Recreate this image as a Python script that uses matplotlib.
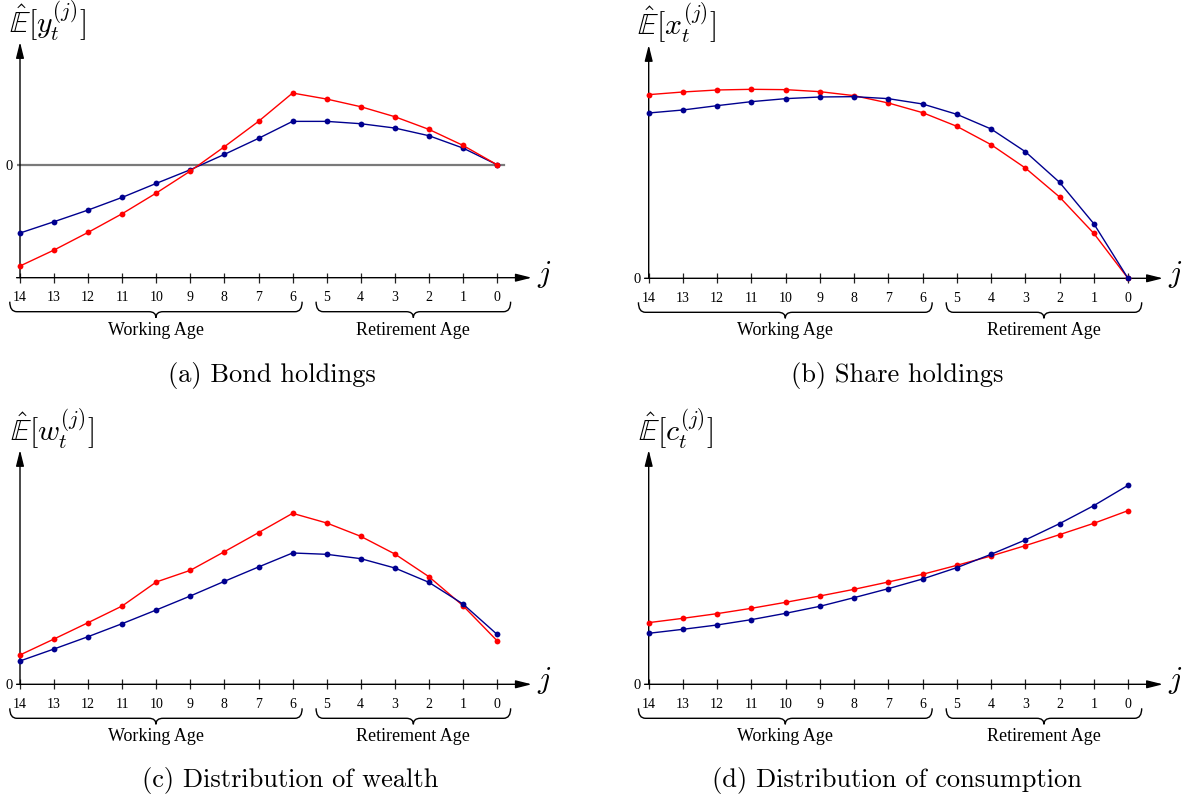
import matplotlib
matplotlib.use("Agg")
import matplotlib.pyplot as plt
from matplotlib.path import Path
from matplotlib.patches import PathPatch
import matplotlib.transforms as mtransforms

plt.rcParams['mathtext.fontset'] = 'cm'

# ---------------- data ----------------
ages = list(range(14, -1, -1))          # 14 ... 0
tick_labels = [str(a) for a in ages]

bond_red = [-3.04, -2.56, -2.03, -1.47, -0.85, -0.19, 0.54, 1.30, 2.15, 1.97, 1.74, 1.44, 1.06, 0.58, 0.0]
bond_blue = [-2.05, -1.71, -1.36, -0.98, -0.56, -0.15, 0.31, 0.79, 1.30, 1.30, 1.23, 1.10, 0.87, 0.50, 0.0]
share_red = [5.51, 5.59, 5.65, 5.67, 5.66, 5.60, 5.48, 5.26, 4.97, 4.56, 4.01, 3.31, 2.44, 1.35, 0.0]
share_blue = [4.96, 5.05, 5.18, 5.30, 5.39, 5.44, 5.45, 5.39, 5.23, 4.92, 4.48, 3.80, 2.88, 1.64, 0.0]
wealth_red = [0.88, 1.36, 1.85, 2.35, 3.07, 3.42, 3.98, 4.55, 5.13, 4.84, 4.44, 3.91, 3.23, 2.36, 1.31]
wealth_blue = [0.70, 1.06, 1.43, 1.82, 2.23, 2.65, 3.09, 3.52, 3.94, 3.90, 3.77, 3.49, 3.06, 2.41, 1.50]
cons_red = [1.85, 1.98, 2.12, 2.28, 2.46, 2.65, 2.85, 3.07, 3.30, 3.57, 3.85, 4.16, 4.49, 4.83, 5.21]
cons_blue = [1.53, 1.65, 1.78, 1.94, 2.13, 2.34, 2.60, 2.87, 3.16, 3.50, 3.90, 4.33, 4.82, 5.36, 5.97]

ylabels = [r'$\hat{\mathbb{E}}[y_t^{(j)}]$',
           r'$\hat{\mathbb{E}}[x_t^{(j)}]$',
           r'$\hat{\mathbb{E}}[w_t^{(j)}]$',
           r'$\hat{\mathbb{E}}[c_t^{(j)}]$']
captions = ['(a) Bond holdings', '(b) Share holdings',
            '(c) Distribution of wealth', '(d) Distribution of consumption']
group_labels = ['Working Age', 'Retirement Age']
groups = [(14.3, 5.72), (5.31, -0.4)]

RED = '#ff0000'
BLUE = '#00008f'
W, H = 1184, 800

fig = plt.figure(figsize=(W / 100, H / 100), dpi=100)

# layout per panel (pixels, top-left origin)
panels = [
    dict(x14=20, x0=497, xl=14.1, xr=-1.02, yz=164.7, ylo=-3.39, yhi=3.68,
         red=bond_red, blue=bond_blue, red_top=True, zero_line=True,
         lab=(9, 33), cap=(272, 382)),
    dict(x14=648.7, x0=1128, xl=14.12, xr=-1.02, yz=278.3, ylo=0, yhi=7.0,
         red=share_red, blue=share_blue, red_top=False, zero_line=False,
         lab=(637, 35), cap=(897, 382)),
    dict(x14=20, x0=497, xl=14.1, xr=-1.02, yz=684.3, ylo=0, yhi=7.03,
         red=wealth_red, blue=wealth_blue, red_top=False, zero_line=False,
         lab=(10, 441), cap=(290, 787)),
    dict(x14=648.7, x0=1128, xl=14.12, xr=-1.02, yz=684.3, ylo=0, yhi=7.03,
         red=cons_red, blue=cons_blue, red_top=False, zero_line=False,
         lab=(638, 441), cap=(897, 787)),
]
UNIT = 33.33  # px per value unit

axes = []
for i, p in enumerate(panels):
    s = (p['x0'] - p['x14']) / 14.0
    left = p['x14'] - (p['xl'] - 14) * s
    right = p['x0'] - p['xr'] * s
    bottom = p['yz'] - p['ylo'] * UNIT
    top = p['yz'] - p['yhi'] * UNIT
    ax = fig.add_axes([left / W, 1 - bottom / H, (right - left) / W, (bottom - top) / H])
    ax.set_xlim(p['xl'], p['xr'])
    ax.set_ylim(p['ylo'], p['yhi'])
    for sp in ax.spines.values():
        sp.set_visible(False)
    ax.patch.set_alpha(0)

    # ticks
    ax.set_xticks(ages)
    ax.set_xticklabels(tick_labels, fontfamily='Liberation Serif', fontsize=10)
    ax.tick_params(axis='x', direction='inout', length=7.2, width=0.9, pad=6.2,
                   color='#222222')
    ax.set_yticks([0])
    ax.set_yticklabels(['0'], fontfamily='Liberation Serif', fontsize=10.5)
    ax.tick_params(axis='y', length=0, pad=2.5)

    # axes arrows
    ax.annotate('', xy=(1, 0), xytext=(0, 0), xycoords='axes fraction',
                arrowprops=dict(arrowstyle='-|>,head_length=0.8,head_width=0.2',
                                lw=1.0, color='black', shrinkA=0, shrinkB=0,
                                mutation_scale=12),
                annotation_clip=False)
    ax.annotate('', xy=(14, p['yhi']), xytext=(14, p['ylo']), xycoords='data',
                arrowprops=dict(arrowstyle='-|>,head_length=0.8,head_width=0.2',
                                lw=1.0, color='black', shrinkA=0, shrinkB=0,
                                mutation_scale=12),
                annotation_clip=False)
    ax.annotate(r'$j$', xy=(1, 0), xycoords='axes fraction', xytext=(5, -4),
                textcoords='offset pixels', fontsize=22, ha='left', va='baseline',
                annotation_clip=False)

    if p['zero_line']:
        ax.plot([14.06, -0.2], [0, 0], color='#7a7a7a', lw=1.6, zorder=1)

    series = [(p['blue'], BLUE), (p['red'], RED)] if p['red_top'] else \
             [(p['red'], RED), (p['blue'], BLUE)]
    for vals, col in series:
        ax.plot(ages, vals, color=col, lw=1.0, marker='o', ms=4.2,
                markeredgewidth=0, zorder=3, clip_on=False)

    # y label
    fig.text(p['lab'][0] / W, 1 - p['lab'][1] / H, ylabels[i], fontsize=21.5,
             ha='left', va='baseline')
    # caption
    fig.text(p['cap'][0] / W, 1 - p['cap'][1] / H, captions[i], fontfamily='cmr10',
             fontsize=19, ha='center', va='baseline')
    axes.append(ax)

# braces and group labels
def draw_brace(ax, xa, xb):
    pa = ax.transData.transform((xa, ax.get_ylim()[0]))
    pb = ax.transData.transform((xb, ax.get_ylim()[0]))
    y0 = pa[1]
    yt, yb, yp = y0 - 24, y0 - 34, y0 - 40
    xL, xR = pa[0], pb[0]
    xm = 0.5 * (xL + xR)
    r = 7
    verts = [(xL, yt), (xL, yb), (xL + r, yb),
             (xm - r, yb), (xm, yb), (xm, yp),
             (xm, yb), (xm + r, yb),
             (xR - r, yb), (xR, yb), (xR, yt)]
    codes = [Path.MOVETO, Path.CURVE3, Path.CURVE3,
             Path.LINETO, Path.CURVE3, Path.CURVE3,
             Path.CURVE3, Path.CURVE3,
             Path.LINETO, Path.CURVE3, Path.CURVE3]
    patch = PathPatch(Path(verts, codes), facecolor='none', edgecolor='black',
                      lw=1.0, transform=mtransforms.IdentityTransform(),
                      clip_on=False)
    fig.add_artist(patch)

for ax in axes:
    for (xa, xb), lab in zip(groups, group_labels):
        draw_brace(ax, xa, xb)
        ax.annotate(lab, xy=(0.5 * (xa + xb), 0), xycoords=('data', 'axes fraction'),
                    xytext=(0, -57), textcoords='offset pixels', ha='center',
                    va='baseline', fontfamily='Liberation Serif', fontsize=13,
                    annotation_clip=False)

fig.savefig('out.png', dpi=100)
